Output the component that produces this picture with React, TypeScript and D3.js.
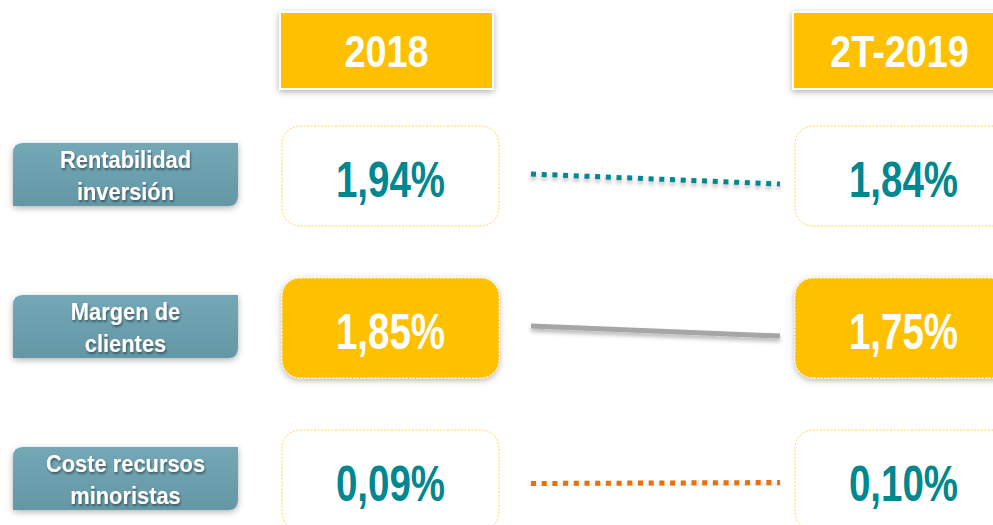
import * as React from "react";
import * as d3 from "d3";

// data
const metrics = ["Rentabilidad inversión", "Margen de clientes", "Coste recursos minoristas"];
const labelLines = [["Rentabilidad", "inversión"], ["Margen de", "clientes"], ["Coste recursos", "minoristas"]];
const periods = ["2018", "2T-2019"];
const values2018 = [1.94, 1.85, 0.09];
const values2T2019 = [1.84, 1.75, 0.10];
const highlighted = [false, true, false];
const connectorStyle = ["dotTeal", "solidGray", "dotOrange"];

const W = 993;
const H = 525;
const YELLOW = "#FFC000";
const TEAL = "#00878F";
const FONT = "'Liberation Sans', Arial, sans-serif";

const fmt = (v: number) => d3.format(".2f")(v).replace(".", ",") + "%";

export default function App() {
  const x = d3.scalePoint<string>().domain(periods).range([390.5, 903.5]);
  const y = d3.scalePoint<string>().domain(metrics).range([176, 480]);
  // small tilt of the connector, driven by the change between periods
  const tilt = d3.scaleLinear().domain([-0.1, 0.1]).range([5, -5]);

  const boxW = 217, boxH = 100;
  const headW = 213, headH = 77, headCy = 50.5;
  const labX = 13, labW = 225, labH = 63;

  const line = d3.line<[number, number]>();

  const diagRect = (x0: number, y0: number, w: number, h: number, r: number) =>
    `M${x0 + r},${y0} H${x0 + w} V${y0 + h - r} Q${x0 + w},${y0 + h} ${x0 + w - r},${y0 + h} H${x0} V${y0 + r} Q${x0},${y0} ${x0 + r},${y0} Z`;

  const stroke = (s: string) =>
    s === "dotTeal"
      ? { stroke: "#00878F", strokeWidth: 5, strokeDasharray: "5 5.7" }
      : s === "dotOrange"
      ? { stroke: "#E8710A", strokeWidth: 5, strokeDasharray: "5 5.7" }
      : { stroke: "#A6A6A6", strokeWidth: 5 };

  return (
    <svg width={W} height={H} style={{ position: "absolute", left: 0, top: 0, background: "#fff" }}>
      <defs>
        <filter id="shadow" x="-20%" y="-20%" width="140%" height="160%">
          <feDropShadow dx="0" dy="2" stdDeviation="3" floodColor="#000" floodOpacity="0.3" />
        </filter>
        <filter id="lineShadow" x="-5%" y="-200%" width="110%" height="500%">
          <feDropShadow dx="0" dy="3" stdDeviation="2" floodColor="#000" floodOpacity="0.3" />
        </filter>
        <filter id="textShadow" x="-10%" y="-30%" width="120%" height="160%">
          <feDropShadow dx="1" dy="2" stdDeviation="1.2" floodColor="#000" floodOpacity="0.45" />
        </filter>
        <linearGradient id="labGrad" x1="0" y1="0" x2="0" y2="1">
          <stop offset="0" stopColor="#74A8B6" />
          <stop offset="1" stopColor="#6497A5" />
        </linearGradient>
      </defs>

      {/* period headers */}
      {periods.map((p) => {
        const cx = (x(p) as number) - 4;
        return (
          <g key={p}>
            <rect x={cx - headW / 2} y={headCy - headH / 2} width={headW} height={headH}
              fill={YELLOW} stroke="#fff" strokeWidth={2} filter="url(#shadow)" />
            <text transform={`translate(${cx},${headCy + 16.5}) scale(0.86,1)`} textAnchor="middle"
              fontFamily={FONT} fontWeight="bold" fontSize={44} fill="#fff">{p}</text>
          </g>
        );
      })}

      {metrics.map((m, i) => {
        const cy = y(m) as number;
        const lc = cy - 1.5;
        const vals = [values2018[i], values2T2019[i]];
        const hl = highlighted[i];
        const t = tilt(vals[1] - vals[0]);
        const x0 = (x(periods[0]) as number) + boxW / 2 + 32;
        const x1 = (x(periods[1]) as number) - boxW / 2 - 15;
        const ly = cy + 3;
        return (
          <g key={m}>
            {/* metric label */}
            <path d={diagRect(labX, lc - labH / 2, labW, labH, 10)} fill="url(#labGrad)" filter="url(#shadow)" />
            {labelLines[i].map((s, k) => (
              <text key={s} transform={`translate(${labX + labW / 2},${lc - 6.5 + k * 32}) scale(0.93,1)`}
                textAnchor="middle" fontFamily={FONT} fontWeight="bold" fontSize={23.5} fill="#fff"
                filter="url(#textShadow)">{s}</text>
            ))}

            {/* connector */}
            <path d={line([[x0, ly - t], [x1, ly + t]]) as string} fill="none" {...stroke(connectorStyle[i])}
              filter="url(#lineShadow)" />

            {/* value boxes */}
            {periods.map((p, j) => {
              const cx = x(p) as number;
              return (
                <g key={p}>
                  <rect x={cx - boxW / 2} y={cy - boxH / 2} width={boxW} height={boxH} rx={18}
                    fill={hl ? YELLOW : "#fff"} stroke={hl ? "#fff" : "#FFD54F"} strokeWidth={1}
                    strokeDasharray="2 1.5" filter={hl ? "url(#shadow)" : undefined} />
                  <text transform={`translate(${cx},${cy + 21}) scale(0.77,1)`} textAnchor="middle"
                    fontFamily={FONT} fontWeight="bold" fontSize={50} fill={hl ? "#fff" : TEAL}>
                    {fmt(vals[j])}
                  </text>
                </g>
              );
            })}
          </g>
        );
      })}
    </svg>
  );
}
